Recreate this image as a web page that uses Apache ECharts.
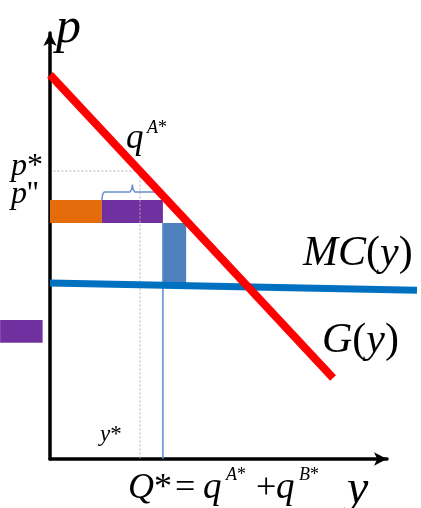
<!DOCTYPE html>
<html>
<head>
<meta charset="utf-8">
<script src="https://cdn.jsdelivr.net/npm/echarts@6/dist/echarts.min.js"></script>
<style>
  html, body { margin: 0; padding: 0; background: #fff; }
  #chart { width: 421px; height: 508px; }
</style>
</head>
<body>
<div id="chart"></div>
<script>
// Public-good provision diagram: demand G(y), marginal cost MC(y), contributions.
const demandLine = [[0, 9.02], [8.40, 1.90]];      // G(y)
const mcLine = [[0, 4.13], [10.89, 3.96]];         // MC(y)
const yStar = 2.67;                                // y*
const pStar = 6.76;                                // p*
const qTotal = 3.35;                               // Q* = qA* + qB*
const pDouble = 6.08;                              // p''
const barBase = 5.54;

// rectangles: [x0, x1, y0, y1]
const orangeBar = [0, 1.54, barBase, pDouble];
const purpleBar = [1.54, qTotal, barBase, pDouble];
const blueBar = [qTotal, 4.04, 4.05, barBase];
const sideBar = [-1.48, -0.22, 2.73, 3.26];
const barColors = ['#E46C0A', '#7030A0', '#4F81BD', '#7030A0'];

// brace over the purple bar: span and heights [foot, arm, tip]
const braceSpan = [1.54, qTotal];
const braceLevels = [pDouble, 6.27, 6.44];

const SERIF = '"Liberation Serif", "Times New Roman", serif';

function bracePoints(span, lv) {
  const [a, b] = span;
  const m = (a + b) / 2;
  const d = 0.07;
  return [
    [a, lv[0]], [a + d * 0.3, lv[1] - 0.06], [a + d, lv[1]],
    [m - d, lv[1]], [m - d * 0.3, lv[1] + 0.06], [m, lv[2]],
    [m + d * 0.3, lv[1] + 0.06], [m + d, lv[1]],
    [b - d, lv[1]], [b - d * 0.3, lv[1] - 0.06], [b, lv[0]]
  ];
}

// text helper: x = left edge, base = baseline in px
function label(text, x, base, size, italic, rich) {
  const el = {
    type: 'text', x: x, y: base - 0.34 * size, z: 100,
    style: {
      text: text,
      font: (italic ? 'italic ' : '') + size + 'px ' + SERIF,
      fill: '#000', align: 'left', verticalAlign: 'middle'
    }
  };
  if (rich) {
    el.style.rich = {
      i: { fontStyle: 'italic', fontSize: size, fontFamily: SERIF, fill: '#000' },
      n: { fontStyle: 'normal', fontSize: size, fontFamily: SERIF, fill: '#000' }
    };
  }
  return el;
}

const chart = echarts.init(document.getElementById('chart'), null, { renderer: 'canvas' });

const axisCommon = {
  type: 'value', min: 0, max: 10,
  axisLine: {
    show: true, onZero: false,
    lineStyle: { color: '#000', width: 3.5 },
    symbol: ['none', 'arrow'], symbolSize: [10, 13], symbolOffset: [0, 0]
  },
  axisTick: { show: false }, axisLabel: { show: false }, splitLine: { show: false }
};

// straight segment drawn through the axes, allowed to run past the grid edge
function segmentSeries(points, color, width, z) {
  return {
    type: 'custom', clip: false, z: z, silent: true,
    data: [[points[0][0], points[0][1], points[1][0], points[1][1]]],
    renderItem: function (params, api) {
      const a = api.coord([api.value(0), api.value(1)]);
      const b = api.coord([api.value(2), api.value(3)]);
      return {
        type: 'line',
        shape: { x1: a[0], y1: a[1], x2: b[0], y2: b[1] },
        style: { stroke: color, lineWidth: width, lineCap: 'butt' }
      };
    }
  };
}

chart.setOption({
  animation: false,
  backgroundColor: '#fff',
  grid: { left: 50, top: 33, right: 34, bottom: 49 },
  xAxis: axisCommon,
  yAxis: axisCommon,
  series: [
    {
      type: 'custom', clip: false, z: 2,
      data: [orangeBar, purpleBar, blueBar, sideBar],
      renderItem: function (params, api) {
        const p0 = api.coord([api.value(0), api.value(3)]);
        const p1 = api.coord([api.value(1), api.value(2)]);
        return {
          type: 'rect',
          shape: { x: p0[0], y: p0[1], width: p1[0] - p0[0], height: p1[1] - p0[1] },
          style: { fill: barColors[params.dataIndex] }
        };
      }
    },
    {
      type: 'line', symbol: 'none', z: 3, silent: true,
      data: [[0.1, pStar], [yStar, pStar], [yStar, 0]],
      lineStyle: { color: '#b0b0b0', width: 1, type: [2, 2] }
    },
    {
      type: 'line', symbol: 'none', z: 3, silent: true,
      data: [[qTotal, barBase], [qTotal, 0]],
      lineStyle: { color: '#5B8BCF', width: 1.5 }
    },
    {
      type: 'line', symbol: 'none', z: 3, silent: true,
      data: bracePoints(braceSpan, braceLevels),
      lineStyle: { color: '#6A90C8', width: 1.5 }
    },
    segmentSeries(mcLine, '#0070C0', 7, 4),
    segmentSeries(demandLine, '#FF0000', 8, 5)
  ],
  graphic: [
    label('p', 56, 46, 50, true),
    label('{i|p}{n|*}', 11, 177, 32, false, true),
    label("{i|p}{n|''}", 11, 205, 32, false, true),
    label('q', 126, 151, 35, true),
    label('{i|A}{n|*}', 147, 134, 18, false, true),
    label('{i|MC}{n|(}{i|y}{n|)}', 303, 268, 42, false, true),
    label('{i|G}{n|(}{i|y}{n|)}', 322, 355, 42, false, true),
    label('{i|y}{n|*}', 100, 443, 23, false, true),
    label('{i|Q}{n|*}', 128, 501, 36, false, true),
    label('=', 175, 501, 36, false),
    label('q', 203, 501, 37, true),
    label('{i|A}{n|*}', 226, 481, 18, false, true),
    label('+', 256, 501, 36, false),
    label('q', 276, 501, 37, true),
    label('{i|B}{n|*}', 299, 481, 18, false, true),
    label('y', 347, 507, 48, true)
  ]
});
</script>
</body>
</html>
